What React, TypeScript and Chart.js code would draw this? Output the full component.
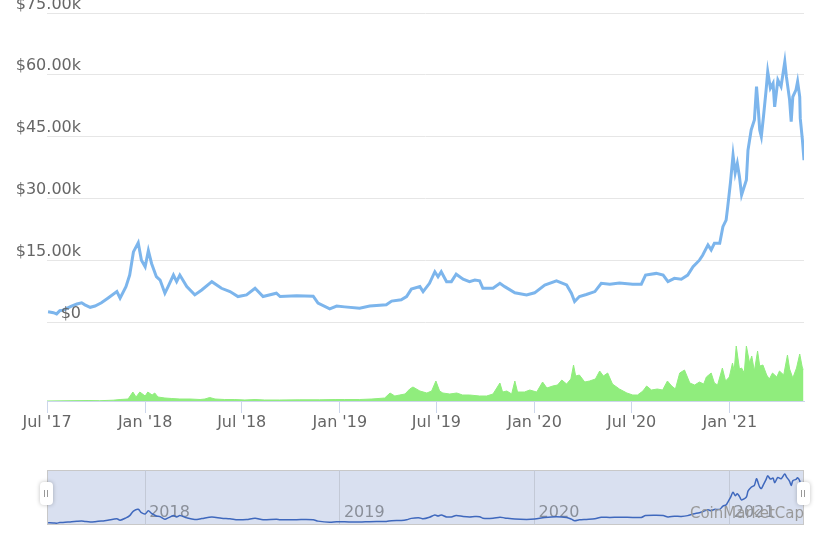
import React, { useEffect, useRef } from 'react';
import { Chart, registerables } from 'chart.js';

Chart.register(...registerables);

// Days counted from 1 Jul 2017
const priceDays = [2, 12, 18, 24, 30, 46, 56, 65, 71, 81, 90, 102, 114, 131, 137, 148, 155, 162, 171, 177, 184, 190, 196, 205, 212, 221, 227, 237, 243, 249, 262, 277, 290, 309, 327, 343, 358, 374, 390, 405, 430, 437, 468, 499, 508, 530, 543, 558, 586, 605, 636, 646, 664, 674, 683, 699, 705, 717, 727, 733, 739, 749, 758, 767, 780, 792, 802, 811, 817, 836, 849, 858, 877, 899, 914, 933, 955, 974, 983, 989, 998, 1011, 1027, 1039, 1055, 1073, 1098, 1114, 1122, 1142, 1155, 1164, 1176, 1189, 1201, 1211, 1223, 1229, 1239, 1245, 1251, 1261, 1267, 1273, 1276, 1281, 1286, 1290, 1294, 1298, 1302, 1311, 1314, 1320, 1326, 1330, 1333, 1336, 1339, 1343, 1348, 1351, 1356, 1361, 1364, 1370, 1376, 1383, 1386, 1392, 1395, 1398, 1404, 1407, 1411, 1412, 1416, 1419];
const priceUsd = [2700, 2500, 2200, 3000, 3100, 4100, 4600, 4900, 4400, 3800, 4100, 4900, 6000, 7600, 6000, 8800, 11600, 17200, 19400, 15200, 13600, 17500, 14400, 11200, 10400, 7200, 8800, 11600, 10000, 11600, 8800, 6800, 8000, 10000, 8400, 7600, 6400, 6800, 8400, 6400, 7200, 6400, 6600, 6500, 4800, 3400, 4100, 3900, 3600, 4100, 4400, 5300, 5600, 6400, 8200, 8800, 7600, 9600, 12400, 11200, 12400, 10000, 10000, 11800, 10600, 10000, 10400, 10200, 8400, 8400, 9600, 8800, 7300, 6800, 7300, 9200, 10200, 9200, 7200, 5200, 6400, 6900, 7600, 9600, 9400, 9700, 9400, 9400, 11600, 12000, 11600, 10000, 10800, 10600, 11600, 13600, 15200, 16400, 18900, 17700, 19300, 19300, 23300, 24900, 28100, 33800, 40600, 36300, 38600, 35400, 31000, 34600, 41800, 46700, 49100, 57200, 52300, 46700, 45100, 49900, 56400, 60800, 56800, 58000, 52300, 58800, 57200, 63200, 59600, 54000, 48700, 54700, 56400, 58400, 54700, 49500, 44300, 39400];

const volumeDays = [0, 77, 99, 124, 137, 152, 161, 167, 174, 184, 189, 197, 202, 208, 221, 234, 249, 268, 287, 296, 305, 315, 333, 352, 371, 390, 408, 436, 474, 511, 540, 558, 586, 609, 633, 643, 652, 661, 671, 680, 686, 699, 712, 721, 729, 736, 742, 755, 768, 779, 792, 811, 824, 836, 849, 854, 862, 871, 877, 882, 895, 905, 918, 929, 937, 948, 957, 965, 974, 982, 987, 991, 998, 1008, 1017, 1028, 1036, 1043, 1051, 1060, 1073, 1087, 1098, 1107, 1117, 1124, 1133, 1144, 1154, 1163, 1171, 1178, 1186, 1195, 1205, 1214, 1223, 1231, 1236, 1245, 1251, 1257, 1266, 1272, 1279, 1285, 1288, 1292, 1298, 1302, 1307, 1311, 1317, 1321, 1326, 1332, 1336, 1342, 1349, 1354, 1360, 1368, 1373, 1381, 1388, 1392, 1398, 1405, 1411, 1416, 1418];
const volumeBn = [0, 1, 0.6, 1.6, 3, 4, 18, 8, 18, 10, 18, 12, 16, 8, 6, 5, 4, 4, 3, 4, 7, 4, 3, 3, 2, 3, 2, 2, 2.4, 2.4, 3, 3, 3, 4, 6, 16, 10, 12, 14, 24, 28, 20, 16, 20, 40, 20, 16, 14, 16, 12, 12, 10, 10, 14, 36, 18, 20, 14, 40, 18, 18, 22, 18, 38, 26, 30, 32, 42, 34, 44, 72, 50, 52, 38, 40, 44, 60, 50, 56, 34, 24, 16, 12, 12, 20, 30, 22, 24, 22, 40, 30, 24, 56, 62, 36, 32, 38, 34, 48, 56, 36, 32, 66, 40, 48, 76, 60, 110, 64, 66, 56, 110, 76, 90, 60, 100, 70, 72, 52, 44, 56, 48, 60, 52, 92, 64, 46, 66, 94, 66, 64];

const priceTicks = [0, 15000, 30000, 45000, 60000, 75000];
const priceTickLabels = ['$0', '$15.00k', '$30.00k', '$45.00k', '$60.00k', '$75.00k'];
const axisTickDays = [0, 184, 365, 549, 730, 914, 1096, 1280];
const axisTickLabels = ["Jul '17", "Jan '18", "Jul '18", "Jan '19", "Jul '19", "Jan '20", "Jul '20", "Jan '21"];
const navTickDays = [184, 549, 914, 1280];
const navTickLabels = ['2018', '2019', '2020', '2021'];

const X_MAX = 1419;
const FONT = '"DejaVu Sans", "Lucida Grande", sans-serif';

const yLabelPlugin = {
  id: 'yLabels',
  afterDraw(chart: any) {
    const s = chart.scales.y;
    const ctx = chart.ctx;
    ctx.save();
    ctx.font = `16px ${FONT}`;
    ctx.fillStyle = '#666666';
    ctx.textAlign = 'right';
    ctx.textBaseline = 'alphabetic';
    s.ticks.forEach((t: any) => {
      ctx.fillText(t.label, 81, s.getPixelForValue(t.value) - 4.5);
    });
    ctx.restore();
  },
};

export default function App() {
  const mainRef = useRef<HTMLCanvasElement>(null);
  const navRef = useRef<HTMLCanvasElement>(null);

  useEffect(() => {
    const pricePts = priceDays.map((d, i) => ({ x: d, y: priceUsd[i] }));
    const volPts = volumeDays.map((d, i) => ({ x: d, y: volumeBn[i] }));

    const main = new Chart(mainRef.current!, {
      type: 'line',
      data: {
        datasets: [
          {
            data: pricePts,
            borderColor: '#7cb5ec',
            borderWidth: 3,
            pointRadius: 0,
            tension: 0,
            yAxisID: 'y',
          },
          {
            data: volPts,
            borderColor: '#90ed7d',
            backgroundColor: '#90ed7d',
            borderWidth: 1,
            pointRadius: 0,
            tension: 0,
            fill: 'origin',
            yAxisID: 'yVol',
          },
        ],
      },
      options: {
        responsive: false,
        animation: false,
        events: [],
        layout: { padding: { left: 47, right: 14, top: 13, bottom: 7.8 } },
        plugins: { legend: { display: false }, tooltip: { enabled: false } },
        scales: {
          x: {
            type: 'linear',
            position: 'bottom',
            min: 0,
            max: X_MAX,
            afterBuildTicks: (s: any) => {
              s.ticks = axisTickDays.map((v) => ({ value: v }));
            },
            ticks: {
              autoSkip: false,
              maxRotation: 0,
              padding: 0,
              color: '#666666',
              font: { family: FONT, size: 16 },
              callback: (_v: any, i: number) => axisTickLabels[i],
            },
            grid: {
              drawOnChartArea: false,
              drawTicks: true,
              tickLength: 12,
              tickColor: '#ccd6eb',
              lineWidth: 1,
            },
            border: { display: true, color: '#ccd6eb', width: 1 },
          },
          y: {
            type: 'linear',
            position: 'left',
            min: -18871,
            max: 75000,
            afterBuildTicks: (s: any) => {
              s.ticks = priceTicks.map((v) => ({ value: v }));
            },
            ticks: {
              display: false,
              callback: (_v: any, i: number) => priceTickLabels[i],
            },
            grid: { color: '#e6e6e6', lineWidth: 1, drawTicks: false },
            border: { display: false },
          },
          yVol: {
            type: 'linear',
            display: false,
            min: 0,
            max: 776,
          },
        },
      },
      plugins: [yLabelPlugin],
    });

    const nav = new Chart(navRef.current!, {
      type: 'line',
      data: {
        datasets: [
          {
            data: pricePts,
            borderColor: '#3f68bd',
            borderWidth: 1.5,
            pointRadius: 0,
            tension: 0.3,
          },
        ],
      },
      options: {
        responsive: false,
        animation: false,
        events: [],
        layout: { padding: { left: 47, right: 14, top: 10, bottom: 10.2 } },
        plugins: { legend: { display: false }, tooltip: { enabled: false } },
        scales: {
          x: {
            type: 'linear',
            position: 'bottom',
            min: 0,
            max: X_MAX,
            afterBuildTicks: (s: any) => {
              s.ticks = navTickDays.map((v) => ({ value: v }));
            },
            ticks: {
              autoSkip: false,
              maxRotation: 0,
              mirror: true,
              padding: 2.4,
              align: 'start',
              labelOffset: 4,
              color: '#8a8f99',
              font: { family: FONT, size: 16 },
              callback: (_v: any, i: number) => navTickLabels[i],
            },
            grid: { color: '#c3c9d6', lineWidth: 1, drawTicks: false },
            border: { display: false },
          },
          y: {
            type: 'linear',
            display: false,
            min: 0,
            max: 68000,
          },
        },
      },
    });

    return () => {
      main.destroy();
      nav.destroy();
    };
  }, []);

  const handle = (left: number) => (
    <div
      style={{
        position: 'absolute',
        left,
        top: 482,
        width: 13,
        height: 23,
        background: '#ffffff',
        borderRadius: 4,
        boxShadow: '0 0 4px rgba(0,0,0,0.25)',
      }}
    >
      <div style={{ position: 'absolute', left: 4, top: 8, width: 1, height: 7, background: '#999' }} />
      <div style={{ position: 'absolute', left: 7, top: 8, width: 1, height: 7, background: '#999' }} />
    </div>
  );

  return (
    <div style={{ position: 'absolute', left: 0, top: 0, width: 818, height: 545, background: '#fff', overflow: 'hidden' }}>
      <canvas ref={mainRef} width={818} height={440} style={{ position: 'absolute', left: 0, top: 0 }} />
      <div
        style={{
          position: 'absolute',
          left: 47,
          top: 470,
          width: 757,
          height: 55,
          boxSizing: 'border-box',
          background: 'rgb(217,224,240)',
          border: '1px solid #c8c8c8',
        }}
      />
      <canvas ref={navRef} width={818} height={80} style={{ position: 'absolute', left: 0, top: 460 }} />
      <div
        style={{
          position: 'absolute',
          right: 14,
          top: 503,
          font: `15px ${FONT}`,
          color: '#999999',
          lineHeight: '20px',
          whiteSpace: 'nowrap',
        }}
      >
        CoinMarketCap
      </div>
      {handle(40)}
      {handle(797)}
    </div>
  );
}
